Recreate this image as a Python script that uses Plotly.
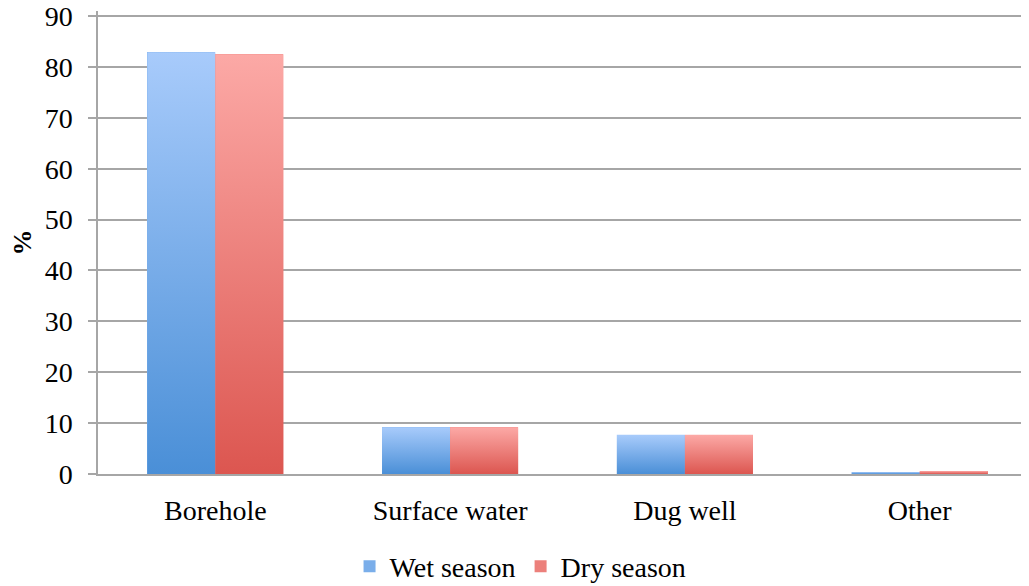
import plotly.graph_objects as go

# data
categories = ['Borehole', 'Surface water', 'Dug well', 'Other']
wet_season = [82.9, 9.2, 7.7, 0.4]
dry_season = [82.5, 9.2, 7.7, 0.6]
y_ticks = [0, 10, 20, 30, 40, 50, 60, 70, 80, 90]

# colours (top / bottom of the gradient, plus a mid tone for the legend)
wet_top, wet_bottom, wet_mid = '#a8cbfb', '#4a8fd7', '#7aaeea'
dry_top, dry_bottom, dry_mid = '#fca9a6', '#dc5650', '#ec807b'
grid_color = '#a6a6a6'
font_name = 'Liberation Serif'

bar_w = 0.29
idx = list(range(len(categories)))

fig = go.Figure()

# plain bars (also give the legend swatches)
fig.add_trace(go.Bar(x=idx, y=wet_season, width=bar_w, offset=-bar_w,
                     marker=dict(color=wet_mid, line=dict(width=0)), name='Wet season'))
fig.add_trace(go.Bar(x=idx, y=dry_season, width=bar_w, offset=0,
                     marker=dict(color=dry_mid, line=dict(width=0)), name='Dry season'))

# gradient overlay on each bar, same shape as the bar below it
def gradient_bar(x0, x1, v, top, bottom):
    fig.add_trace(go.Scatter(x=[x0, x0, x1, x1, x0], y=[0, v, v, 0, 0],
                             mode='none', fill='toself',
                             fillgradient=dict(type='vertical',
                                               colorscale=[[0, bottom], [1, top]]),
                             showlegend=False, hoverinfo='skip'))

for i in idx:
    gradient_bar(i - bar_w, i, wet_season[i], wet_top, wet_bottom)
    gradient_bar(i, i + bar_w, dry_season[i], dry_top, dry_bottom)

# the page body adds an 8px offset, so margins are 8px smaller than the picture
fig.update_layout(
    width=1029, height=586,
    margin=dict(l=90, r=0, t=3, b=120, autoexpand=False),
    plot_bgcolor='white', paper_bgcolor='white',
    font=dict(family=font_name, size=28, color='black'),
    bargap=0, barmode='overlay',
    legend=dict(orientation='h', x=0.45, xanchor='center', y=-0.2, yanchor='middle',
                font=dict(size=28), itemwidth=30, traceorder='normal'),
)

fig.update_xaxes(range=[-0.5, 3.5], tickvals=idx, ticktext=categories,
                 showgrid=False, showline=True, linecolor=grid_color, linewidth=2,
                 ticks='', ticklabelstandoff=10, zeroline=False, automargin=False)
# range a little above 90 so the top gridline is drawn
fig.update_yaxes(range=[0, 91], tickvals=y_ticks, showgrid=True, gridcolor=grid_color,
                 gridwidth=1.5, showline=True, linecolor=grid_color, linewidth=1.5,
                 ticks='outside', ticklen=8, tickcolor=grid_color, tickwidth=1.5,
                 ticklabelstandoff=10, ticklabeloverflow='allow',
                 zeroline=False, automargin=False,
                 title=dict(text='<b>%</b>', standoff=14, font=dict(size=26)))

fig.write_html("out.html")
